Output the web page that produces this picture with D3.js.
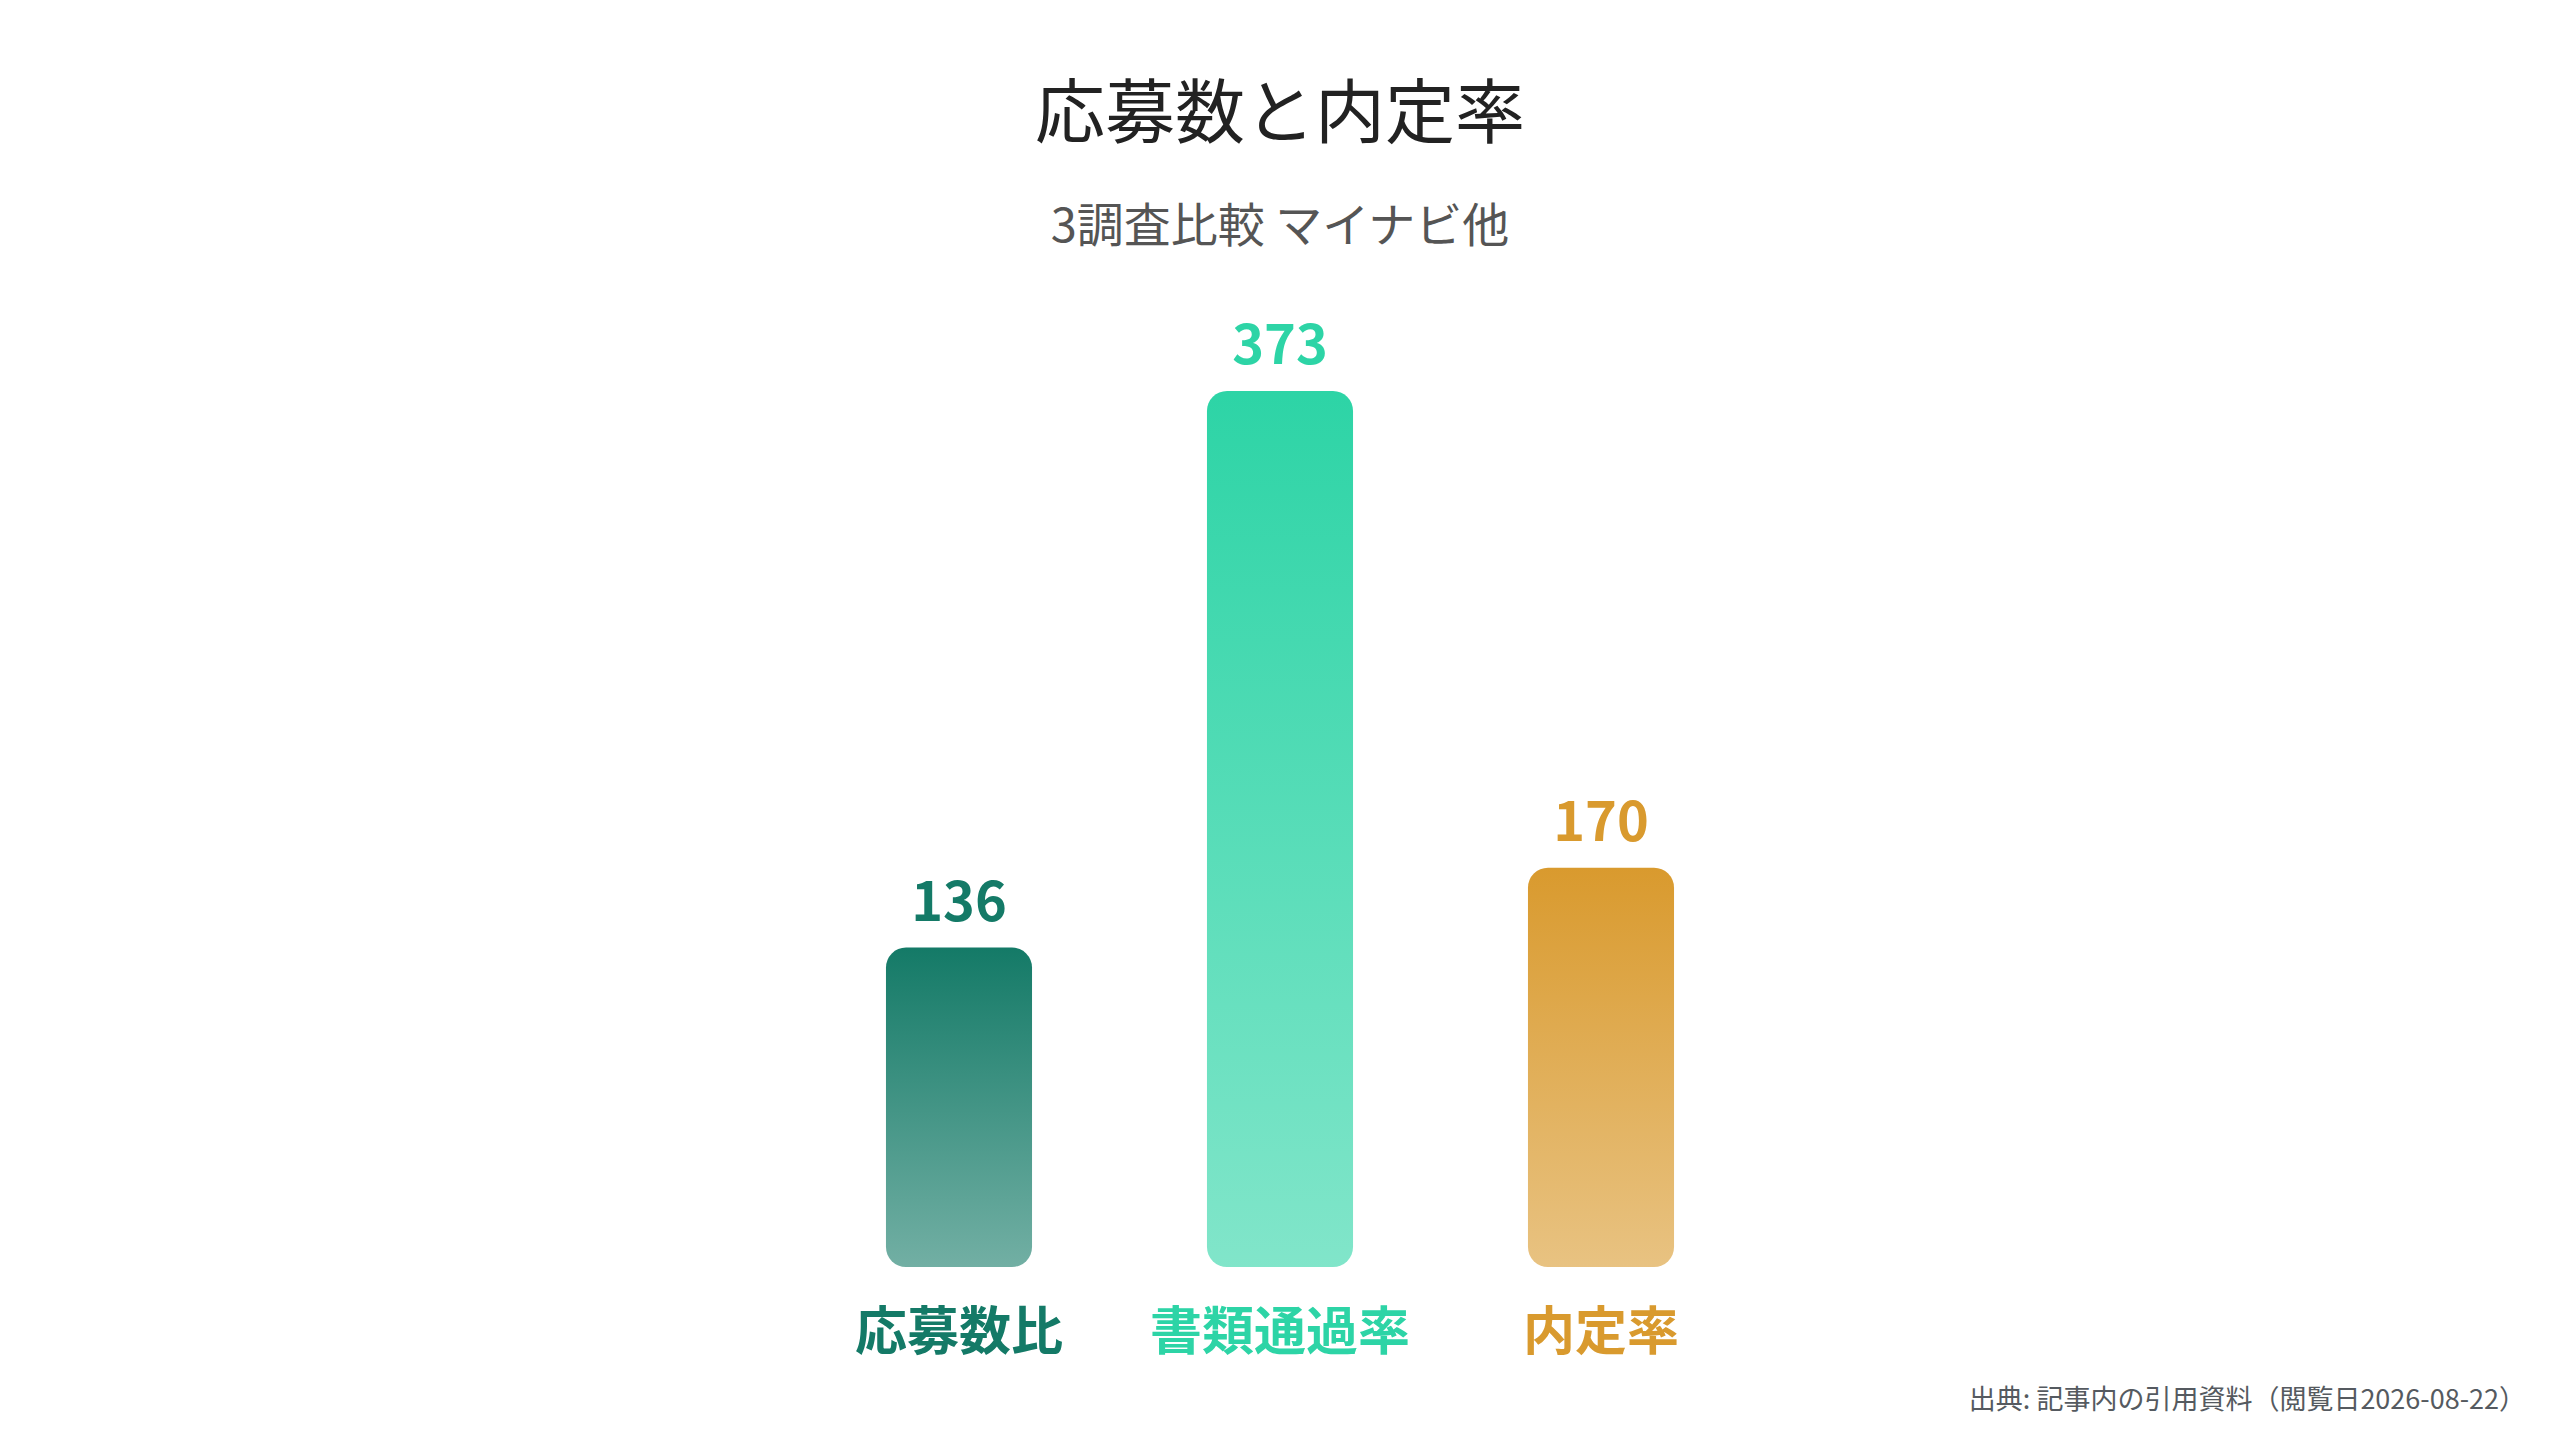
<!DOCTYPE html>
<html lang="ja">
<head>
<meta charset="utf-8">
<script src="https://cdn.jsdelivr.net/npm/d3@7"></script>
<style>
  html, body { margin: 0; padding: 0; background: #fff; }
  svg text { font-family: "Noto Sans CJK JP", "Noto Sans", sans-serif; }
</style>
</head>
<body>
<div id="chart"></div>
<script>
// chart values
var categories = ['応募数比', '書類通過率', '内定率'];
var values = [136, 373, 170];
var colors = ['#147a67', '#2dd4a6', '#d99a2e'];

var titleText = '応募数と内定率';
var subtitleText = '3調査比較 マイナビ他';
var sourceText = '出典: 記事内の引用資料（閲覧日2026-08-22）';

var W = 2560, H = 1440;

var svg = d3.select('#chart')
    .append('svg')
    .attr('width', W)
    .attr('height', H);

var x = d3.scaleBand()
    .domain(categories)
    .range([798.5, 1761.5])
    .paddingInner(0.545)
    .paddingOuter(0.2725);

var y = d3.scaleLinear()
    .domain([0, 373])
    .range([1267, 391]);

// vertical gradients, full colour at the top fading to 60% at the bottom
var defs = svg.append('defs');
categories.forEach((c, i) => {
    var g = defs.append('linearGradient')
        .attr('id', 'grad' + i)
        .attr('x1', 0).attr('y1', 0)
        .attr('x2', 0).attr('y2', 1);
    g.append('stop').attr('offset', '0%').attr('stop-color', colors[i]).attr('stop-opacity', 1);
    g.append('stop').attr('offset', '100%').attr('stop-color', colors[i]).attr('stop-opacity', 0.6);
});

svg.append('text')
    .attr('x', W / 2)
    .attr('y', 138)
    .attr('text-anchor', 'middle')
    .attr('font-size', '70px')
    .attr('fill', '#222')
    .text(titleText);

svg.append('text')
    .attr('x', W / 2)
    .attr('y', 242)
    .attr('text-anchor', 'middle')
    .attr('font-size', '47px')
    .attr('fill', '#555')
    .text(subtitleText);

var bars = svg.append('g');

bars.selectAll('rect')
    .data(values)
    .enter()
    .append('rect')
    .attr('x', (d, i) => x(categories[i]))
    .attr('y', d => y(d))
    .attr('width', x.bandwidth())
    .attr('height', d => y(0) - y(d))
    .attr('rx', 20)
    .attr('ry', 20)
    .style('fill', (d, i) => 'url(#grad' + i + ')');

// value labels above bars
bars.selectAll('text.val')
    .data(values)
    .enter()
    .append('text')
    .attr('class', 'val')
    .attr('x', (d, i) => x(categories[i]) + x.bandwidth() / 2)
    .attr('y', d => y(d) - 27)
    .attr('text-anchor', 'middle')
    .attr('font-size', '54px')
    .attr('font-weight', 'bold')
    .attr('fill', (d, i) => colors[i])
    .text(d => d);

// category labels under bars
bars.selectAll('text.cat')
    .data(categories)
    .enter()
    .append('text')
    .attr('class', 'cat')
    .attr('x', d => x(d) + x.bandwidth() / 2)
    .attr('y', 1350)
    .attr('text-anchor', 'middle')
    .attr('font-size', '52px')
    .attr('font-weight', 'bold')
    .attr('fill', (d, i) => colors[i])
    .text(d => d);

svg.append('text')
    .attr('x', 2526)
    .attr('y', 1409)
    .attr('text-anchor', 'end')
    .attr('font-size', '27px')
    .attr('fill', '#555a60')
    .text(sourceText);
</script>
</body>
</html>
